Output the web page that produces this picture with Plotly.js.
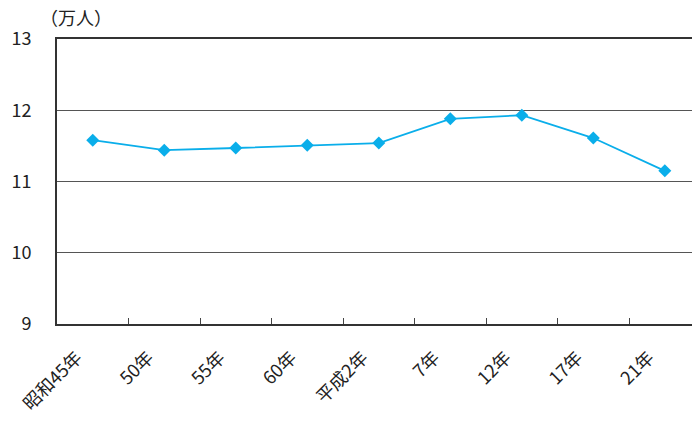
<!DOCTYPE html>
<html>
<head>
<meta charset="utf-8">
<script src="https://cdn.plot.ly/plotly-3.0.1.min.js"></script>
<style>html,body{margin:0;padding:0;background:#fff;}#chart{width:694px;height:421px;}</style>
</head>
<body>
<div id="chart"></div>
<script>
const categories = ["昭和45年", "50年", "55年", "60年", "平成2年", "7年", "12年", "17年", "21年"];
const values = [11.58, 11.44, 11.47, 11.51, 11.54, 11.88, 11.93, 11.61, 11.15];
const yTicks = [9, 10, 11, 12, 13];
const unitLabel = "（万人）";

const font = "'Noto Sans CJK JP', 'Noto Sans', sans-serif";

Plotly.newPlot("chart", [{
  x: categories,
  y: values,
  type: "scatter",
  mode: "lines+markers",
  line: {color: "#0aaeea", width: 1.8},
  marker: {symbol: "diamond", size: 10, color: "#0aaeea"},
  hoverinfo: "skip"
}], {
  width: 694, height: 421,
  margin: {l: 57, r: 2, t: 39, b: 97},
  paper_bgcolor: "#fff", plot_bgcolor: "#fff",
  font: {family: font, size: 17, color: "#222"},
  showlegend: false,
  xaxis: {
    type: "category",
    range: [-0.5, 8.38],
    tickson: "boundaries",
    ticks: "inside", ticklen: 6, tickcolor: "#444", tickwidth: 1,
    showline: true, linecolor: "#333", linewidth: 2, mirror: true,
    showgrid: false, zeroline: false,
    tickangle: -45,
    ticklabelshift: -16,
    ticklabelstandoff: 14,
    tickfont: {family: font, size: 18, color: "#222"}
  },
  yaxis: {
    range: [9, 13],
    tickvals: yTicks,
    ticktext: yTicks.map(String),
    ticks: "",
    showline: true, linecolor: "#333", linewidth: 2,
    showgrid: true, gridcolor: "#555", gridwidth: 1,
    zeroline: false,
    ticklabelstandoff: 20,
    tickfont: {family: font, size: 18, color: "#222"}
  },
  annotations: [{
    text: unitLabel, xref: "paper", yref: "paper",
    x: -0.03, y: 1.0, xanchor: "left", yanchor: "bottom", yshift: 7,
    showarrow: false,
    font: {family: font, size: 18, color: "#222"}
  }]
}, {staticPlot: true});
</script>
</body>
</html>
